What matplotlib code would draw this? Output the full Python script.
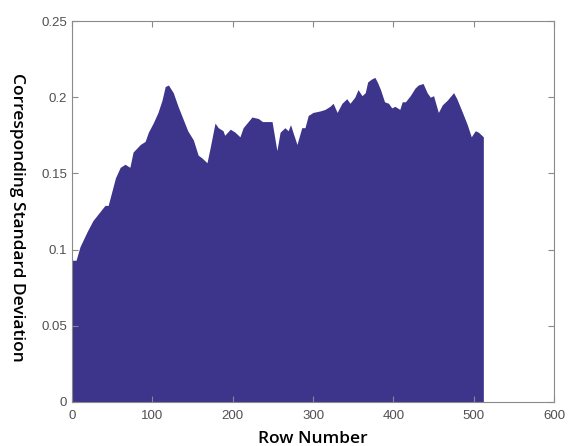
import matplotlib
matplotlib.use("Agg")
import matplotlib.pyplot as plt

rows = [0, 5, 10, 19, 26, 35, 41, 45, 50, 54, 60, 66, 72, 76, 85, 91, 95, 101, 107, 112,
        116, 120, 126, 132, 138, 144, 151, 157, 162, 168, 172, 178, 182, 188, 190, 197,
        203, 209, 213, 224, 232, 237, 244, 249, 255, 259, 265, 269, 272, 275, 280, 286,
        290, 294, 300, 309, 315, 321, 325, 330, 336, 342, 346, 352, 356, 361, 365, 368,
        373, 377, 380, 384, 389, 394, 398, 402, 408, 411, 415, 421, 427, 431, 437, 442,
        446, 450, 456, 461, 467, 475, 479, 486, 492, 497, 502, 506, 512]
stdev = [0.093, 0.093, 0.102, 0.112, 0.119, 0.125, 0.129, 0.129, 0.139, 0.147, 0.154,
         0.156, 0.154, 0.164, 0.169, 0.171, 0.177, 0.183, 0.190, 0.198, 0.207, 0.208,
         0.203, 0.194, 0.186, 0.178, 0.172, 0.162, 0.160, 0.157, 0.167, 0.183, 0.180,
         0.178, 0.175, 0.179, 0.177, 0.174, 0.180, 0.187, 0.186, 0.184, 0.184, 0.184,
         0.165, 0.177, 0.180, 0.178, 0.182, 0.177, 0.169, 0.180, 0.180, 0.188, 0.190,
         0.191, 0.192, 0.194, 0.196, 0.190, 0.196, 0.199, 0.196, 0.200, 0.205, 0.201,
         0.203, 0.210, 0.212, 0.213, 0.210, 0.205, 0.197, 0.196, 0.193, 0.194, 0.192,
         0.197, 0.197, 0.201, 0.206, 0.208, 0.209, 0.203, 0.200, 0.201, 0.190, 0.195,
         0.198, 0.203, 0.199, 0.190, 0.182, 0.174, 0.178, 0.177, 0.174]

xticks = [0, 100, 200, 300, 400, 500, 600]
yticks = [0, 0.05, 0.1, 0.15, 0.2, 0.25]
ytick_labels = ["0", "0.05", "0.1", "0.15", "0.2", "0.25"]

fig = plt.figure(figsize=(5.68, 4.46), dpi=100)
ax = fig.add_axes([0.1268, 0.0987, 0.8486, 0.8542])
ax.fill_between(rows, 0, stdev, color="#3D348B", linewidth=0)
ax.set_xlim(0, 600)
ax.set_ylim(0, 0.25)
ax.set_xticks(xticks)
ax.set_yticks(yticks)
ax.set_yticklabels(ytick_labels)
for s in ax.spines.values():
    s.set_color("#8a8a8a")
    s.set_linewidth(0.8)
ax.tick_params(direction="in", length=4, color="#8a8a8a", labelcolor="#505050",
               labelsize=9.5, top=True, right=True)
ax.tick_params(axis="x", pad=6)
for lab in ax.get_xticklabels() + ax.get_yticklabels():
    lab.set_family("Liberation Sans")
ax.set_xlabel("Row Number", fontsize=12.5, fontweight="semibold", family="Open Sans")
ax.xaxis.set_label_coords(0.5, -0.075)
ax.set_ylabel("Corresponding Standard Deviation", fontsize=12.5, fontweight="semibold",
              family="Open Sans", rotation=270)
ax.yaxis.set_label_coords(-0.13, 0.485)
fig.savefig("out.png", dpi=100)
